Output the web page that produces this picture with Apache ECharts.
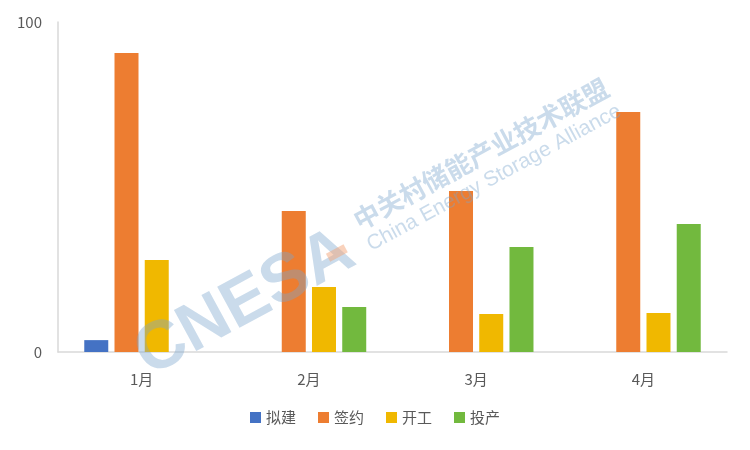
<!DOCTYPE html>
<html>
<head>
<meta charset="utf-8">
<script src="https://cdn.jsdelivr.net/npm/echarts@6/dist/echarts.min.js"></script>
<style>html,body{margin:0;padding:0;background:#fff}#c{width:750px;height:450px}</style>
</head>
<body>
<div id="c"></div>
<script>
var categories = ['1月', '2月', '3月', '4月'];
var seriesNames = ['拟建', '签约', '开工', '投产'];
var niJian = [3.6, 0, 0, 0];
var qianYue = [90.6, 42.7, 48.8, 72.7];
var kaiGong = [27.9, 19.7, 11.5, 11.8];
var touChan = [0, 13.6, 31.8, 38.8];
var yTickLabels = [0, 100];

var colors = ['#4472C4', '#ED7D31', '#F0B800', '#72B93E'];
var values = [niJian, qianYue, kaiGong, touChan];
var font = '"Microsoft YaHei","Noto Sans CJK SC","DejaVu Sans",sans-serif';
var wm = '#7AA6CC';

var chart = echarts.init(document.getElementById('c'));
chart.setOption({
  animation: false,
  color: colors,
  grid: {left: 58, right: 23, top: 22, bottom: 98},
  legend: {
    bottom: 20,
    left: 'center',
    itemWidth: 11, itemHeight: 11, itemGap: 22,
    icon: 'rect',
    textStyle: {fontSize: 15, color: '#595959', fontFamily: font},
    data: seriesNames
  },
  xAxis: {
    type: 'category',
    data: categories,
    axisLine: {lineStyle: {color: '#D9D9D9', width: 1.5}},
    axisTick: {show: false},
    axisLabel: {fontSize: 15, color: '#595959', margin: 20, fontFamily: font}
  },
  yAxis: {
    type: 'value',
    min: 0, max: 100, interval: 100,
    axisLine: {show: true, lineStyle: {color: '#D9D9D9', width: 1.5}},
    splitLine: {show: false},
    axisTick: {show: false},
    axisLabel: {
      fontSize: 15, color: '#595959', margin: 16, fontFamily: font,
      formatter: function (v) { return yTickLabels.indexOf(v) >= 0 ? String(v) : ''; }
    }
  },
  series: seriesNames.map(function (n, i) {
    return {
      name: n, type: 'bar', data: values[i],
      barWidth: 24, barGap: '26%'
    };
  }),
  graphic: [{
    type: 'group',
    x: 155, y: 375,
    rotation: 0.497,
    zlevel: 1,
    silent: true,
    children: [
      {type: 'text', x: -6, y: 14, z: 100, style: {text: 'CNESA', font: 'bold 68px "Liberation Sans", Arial, sans-serif', fill: wm, opacity: 0.4, textVerticalAlign: 'bottom'}},
      {type: 'rect', z: 100, shape: {x: 208, y: -25, width: 20, height: 9}, style: {fill: '#F3A57A', opacity: 0.5}},
      {type: 'text', x: 249, y: -26, z: 100, style: {text: '中关村储能产业技术联盟', font: 'bold 26px "Noto Sans CJK SC", sans-serif', fill: wm, opacity: 0.4, textVerticalAlign: 'bottom'}},
      {type: 'text', x: 249, y: -1, z: 100, style: {text: 'China Energy Storage Alliance', font: '21px "Liberation Sans", Arial, sans-serif', fill: wm, opacity: 0.4, textVerticalAlign: 'bottom'}}
    ]
  }]
});
</script>
</body>
</html>
